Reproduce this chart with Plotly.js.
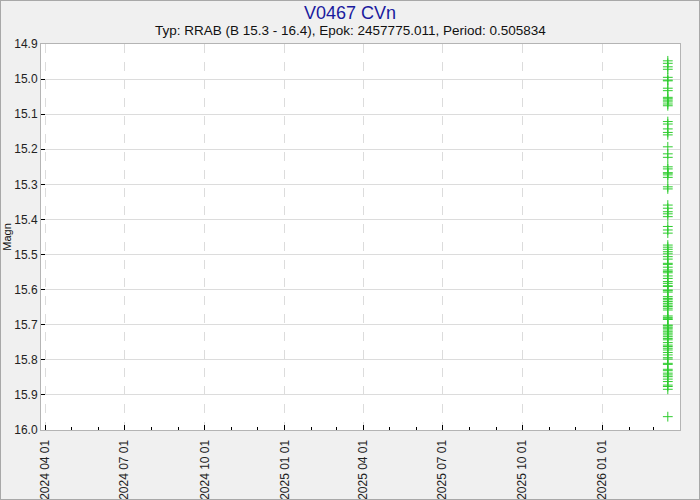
<!DOCTYPE html>
<html>
<head>
<meta charset="utf-8">
<script src="https://cdn.plot.ly/plotly-3.0.1.min.js"></script>
<style>
html,body{margin:0;padding:0;background:#f0f0f0;}
#chart{width:698px;height:498px;border:1px solid #a8a8a8;}
</style>
</head>
<body>
<div id="chart"></div>
<script>
// Observation night (all points in one column)
const obsDate = "2026-03-17";
// Magnitudes
const mags = [
  14.948, 14.955, 14.965, 14.972, 14.995, 15.003, 15.005, 15.026, 15.033,
  15.052, 15.056, 15.060, 15.065, 15.071, 15.076, 15.121, 15.128, 15.142,
  15.152, 15.159, 15.193, 15.213, 15.223, 15.250, 15.256, 15.267, 15.268,
  15.273, 15.280, 15.307, 15.313, 15.359, 15.368, 15.378, 15.384, 15.392,
  15.420, 15.430, 15.439, 15.473, 15.479, 15.485, 15.492, 15.498, 15.506,
  15.513, 15.525, 15.528, 15.536, 15.544, 15.548, 15.552, 15.561, 15.568,
  15.577, 15.582, 15.589, 15.591, 15.601, 15.603, 15.607, 15.620, 15.625,
  15.629, 15.634, 15.639, 15.644, 15.648, 15.653, 15.658, 15.675, 15.679,
  15.683, 15.685, 15.701, 15.703, 15.707, 15.710, 15.715, 15.720, 15.724,
  15.729, 15.734, 15.739, 15.743, 15.751, 15.758, 15.762, 15.767, 15.772,
  15.779, 15.786, 15.794, 15.798, 15.810, 15.813, 15.827, 15.831, 15.838,
  15.843, 15.848, 15.855, 15.862, 15.872, 15.876, 15.884, 15.962
];
const xRange = ["2024-03-27", "2026-03-31"];
const yRange = [16.0, 14.9];
const titleText = "V0467 CVn";
const subtitleText = "Typ: RRAB (B 15.3 - 16.4), Epok: 2457775.011, Period: 0.505834";
const yTitle = "Magn";

const trace = {
  x: mags.map(() => obsDate),
  y: mags,
  type: "scatter",
  mode: "markers",
  marker: {symbol: "cross-thin", size: 7, line: {width: 1, color: "#2ecc2e"}, color: "#2ecc2e"},
  hoverinfo: "x+y"
};

const layout = {
  width: 698, height: 498,
  paper_bgcolor: "#f0f0f0",
  plot_bgcolor: "#ffffff",
  margin: {l: 40, r: 19, t: 43, b: 69},
  showlegend: false,
  font: {family: "Liberation Sans, Arial, sans-serif", size: 12, color: "#222"},
  title: {text: titleText, font: {size: 18, color: "#1a1a9e"}, x: 0.5, xanchor: "center", y: 0.977, yanchor: "middle"},
  annotations: [{
    text: subtitleText, xref: "paper", yref: "paper", x: 0.4836, y: 1, yshift: 14,
    xanchor: "center", yanchor: "middle", showarrow: false, font: {size: 13.5, color: "#111"}
  }],
  xaxis: {
    type: "date", range: xRange,
    tick0: "2024-01-01", dtick: "M3", tickformat: "%Y %m %d", tickangle: -90,
    ticks: "inside", ticklen: 5, tickcolor: "#000", tickwidth: 1,
    showgrid: true, gridcolor: "#dcdcdc", griddash: "dash", gridwidth: 1,
    minor: {dtick: "M1", tick0: "2024-01-01", ticks: "inside", ticklen: 3, tickcolor: "#000", showgrid: false},
    showline: true, linecolor: "#b4b4b4", linewidth: 1, mirror: true,
    zeroline: false, tickfont: {size: 12, color: "#222"}, ticklabelstandoff: 4
  },
  yaxis: {
    range: yRange, dtick: 0.1, tick0: 14.9, tickformat: ".1f",
    ticks: "inside", ticklen: 4, tickcolor: "#000",
    showgrid: true, gridcolor: "#dcdcdc", gridwidth: 1,
    showline: true, linecolor: "#b4b4b4", linewidth: 1, mirror: true,
    zeroline: false, tickfont: {size: 12, color: "#222"},
    title: {text: yTitle, font: {size: 11, color: "#111"}, standoff: 4}
  }
};

Plotly.newPlot("chart", [trace], layout, {displayModeBar: false, staticPlot: true});
</script>
</body>
</html>
